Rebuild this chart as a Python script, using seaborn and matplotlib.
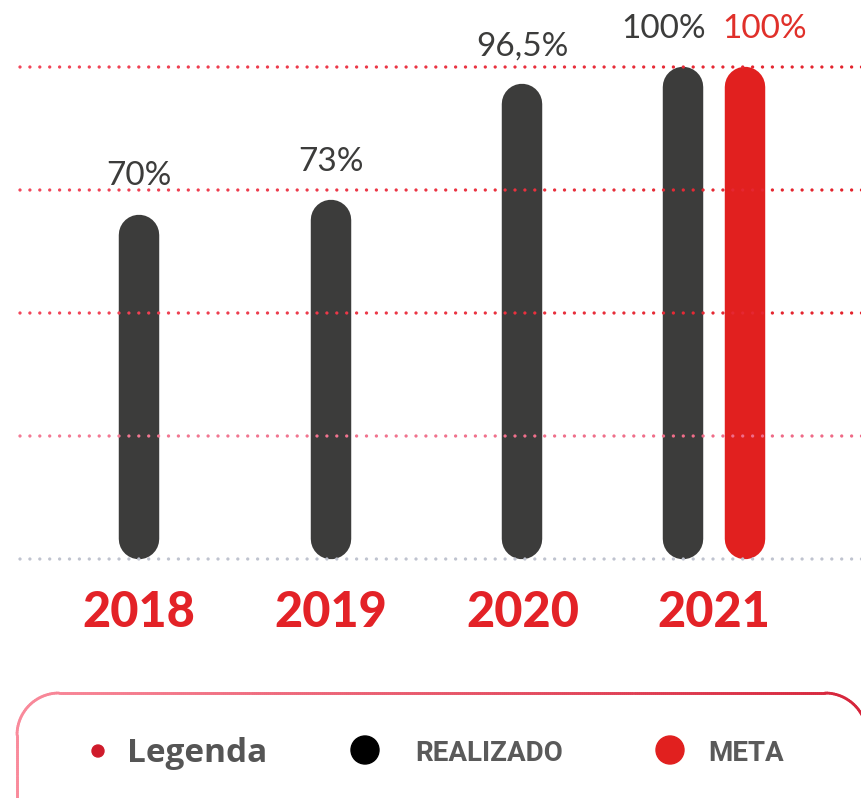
import numpy as np
import pandas as pd
import matplotlib
matplotlib.use("Agg")
import matplotlib.pyplot as plt
import seaborn as sns
from matplotlib.patches import Circle
from matplotlib.collections import LineCollection
from matplotlib.colors import LinearSegmentedColormap

# ---------------- data ----------------
anos = ["2018", "2019", "2020", "2021"]
realizado = [70, 73, 96.5, 100]
rotulos_realizado = ["70%", "73%", "96,5%", "100%"]
meta_anos = ["2021"]
meta = [100]
rotulos_meta = ["100%"]
grade = [0, 25, 50, 75, 100]
serie_nomes = ["REALIZADO", "META"]
titulo_legenda = "Legenda"

# ---------------- style ----------------
sns.set_theme(style="white")
plt.rcParams["font.family"] = ["Lato", "DejaVu Sans"]

COR_REAL = "#3c3c3b"
COR_META = "#e1201f"
palette = {"REALIZADO": COR_REAL, "META": COR_META}
label_cor = {"REALIZADO": "#3c3c3b", "META": "#e0302a"}

rows = []
for a, v, r in zip(anos, realizado, rotulos_realizado):
    rows.append(dict(ano=a, serie="REALIZADO", valor=v, rotulo=r))
for a, v, r in zip(meta_anos, meta, rotulos_meta):
    rows.append(dict(ano=a, serie="META", valor=v, rotulo=r))
df = pd.DataFrame(rows)
idx = {a: i for i, a in enumerate(anos)}
df["n"] = df.groupby("ano")["serie"].transform("count")
df["k"] = df.groupby("ano").cumcount()
DODGE = 0.162
df["off"] = (df["k"] - (df["n"] - 1) / 2) * 2
df["pos"] = df["ano"].map(idx) + df["off"] * DODGE

W, H = 861, 798
fig = plt.figure(figsize=(W / 100, H / 100), dpi=100)
ax = fig.add_axes([18 / W, (H - 559) / H, 843 / W, 492 / H])

BAR_W = 0.211
uniq = np.unique(df["pos"])
native = np.min(np.diff(uniq))
sns.barplot(data=df, x="pos", y="valor", hue="serie", hue_order=serie_nomes,
            palette=palette, native_scale=True, dodge=False,
            width=BAR_W / native, errorbar=None, legend=False,
            saturation=1, ax=ax)

ax.set_xlim(-0.631, 3.766)
ax.set_ylim(grade[0], grade[-1])
ax.set_axis_off()

# rounded bars: replace seaborn rectangles by round-capped strokes
p0 = ax.transData.transform((0, 0))
p1 = ax.transData.transform((1, 1))
xpx = p1[0] - p0[0]
ypx = p1[1] - p0[1]
for p in list(ax.patches):
    x0, w, h = p.get_x(), p.get_width(), p.get_height()
    fc = p.get_facecolor()
    p.remove()
    wpx = w * xpx
    r_data = (wpx / 2) / ypx
    ax.plot([x0 + w / 2, x0 + w / 2], [r_data, h - r_data], color=fc,
            lw=wpx * 0.72, solid_capstyle="round", zorder=2, clip_on=False)

# dotted gradient gridlines (drawn above bars, like the reference)
grid_cols = {
    100: ("#f2465a", "#e3222b"),
    75: ("#f2465a", "#e3222b"),
    50: ("#f2465a", "#e3222b"),
    25: ("#f27a94", "#ee6a86"),
    0: ("#bfc3cf", "#bfc3cf"),
}
ax_px = 843
xs = (np.arange(0, ax_px, 9.9) + 2) / ax_px
for g in grade:
    c0, c1 = grid_cols[g]
    cmap = LinearSegmentedColormap.from_list("g", [c0, c1])
    ax.scatter(xs, np.full_like(xs, g), s=5.5, c=cmap(xs), marker="o",
               linewidths=0, transform=ax.get_yaxis_transform(),
               zorder=3, clip_on=False)

# value labels
for _, r in df.iterrows():
    ax.annotate(r["rotulo"], xy=(r["pos"], r["valor"]),
                xytext=(r["off"] * 14, 21), textcoords="offset points",
                ha="center", va="baseline", fontsize=24,
                color=label_cor[r["serie"]], zorder=4, annotation_clip=False)

# year labels
for a in anos:
    ax.text(idx[a], -0.138, a, transform=ax.get_xaxis_transform(),
            ha="center", va="baseline", fontsize=35, fontweight="black",
            color="#e32227")

# ---------------- legend box ----------------
ov = fig.add_axes([0, 0, 1, 1])
ov.set_xlim(0, W)
ov.set_ylim(H, 0)
ov.set_axis_off()
ov.patch.set_alpha(0)


def rounded_rect(x0, y0, x1, y1, r, step=2.0):
    pts = []

    def line(a, b):
        n = max(int(np.hypot(b[0] - a[0], b[1] - a[1]) / step), 2)
        t = np.linspace(0, 1, n)
        return np.column_stack([a[0] + (b[0] - a[0]) * t, a[1] + (b[1] - a[1]) * t])

    def arc(cx, cy, t0, t1):
        t = np.radians(np.linspace(t0, t1, 30))
        return np.column_stack([cx + r * np.cos(t), cy + r * np.sin(t)])

    pts.append(line((x0 + r, y0), (x1 - r, y0)))
    pts.append(arc(x1 - r, y0 + r, -90, 0))
    pts.append(line((x1, y0 + r), (x1, y1 - r)))
    pts.append(arc(x1 - r, y1 - r, 0, 90))
    pts.append(line((x1 - r, y1), (x0 + r, y1)))
    pts.append(arc(x0 + r, y1 - r, 90, 180))
    pts.append(line((x0, y1 - r), (x0, y0 + r)))
    pts.append(arc(x0 + r, y0 + r, 180, 270))
    return np.vstack(pts)


bx0, by0, bx1, by1 = 17, 693, 867, 860
pts = rounded_rect(bx0, by0, bx1, by1, 42)
segs = np.stack([pts[:-1], pts[1:]], axis=1)
mids = (segs[:, 0, 0] + segs[:, 1, 0]) / 2
bcmap = LinearSegmentedColormap.from_list("b", ["#f98a9b", "#d6243a"])
lc = LineCollection(segs, colors=bcmap((mids - bx0) / (bx1 - bx0)),
                    linewidths=2.0, capstyle="round")
ov.add_collection(lc)

ov.add_patch(Circle((98, 751), 6, color="#cf1b2b"))
ov.text(127, 762, titulo_legenda, fontsize=24, fontweight="bold",
        color="#555555", family=["Open Sans", "DejaVu Sans"],
        ha="left", va="baseline")
leg_pos = {"REALIZADO": (365, 415), "META": (670, 708)}
leg_swatch = {"REALIZADO": "#000000", "META": COR_META}
for s in serie_nomes:
    cx, tx = leg_pos[s]
    ov.add_patch(Circle((cx, 750), 14, color=leg_swatch[s]))
    ov.text(tx, 761, s, fontsize=20, fontweight="bold", color="#5a5a5a",
            family=["Roboto", "DejaVu Sans"], ha="left", va="baseline")

fig.savefig("out.png", dpi=100)
